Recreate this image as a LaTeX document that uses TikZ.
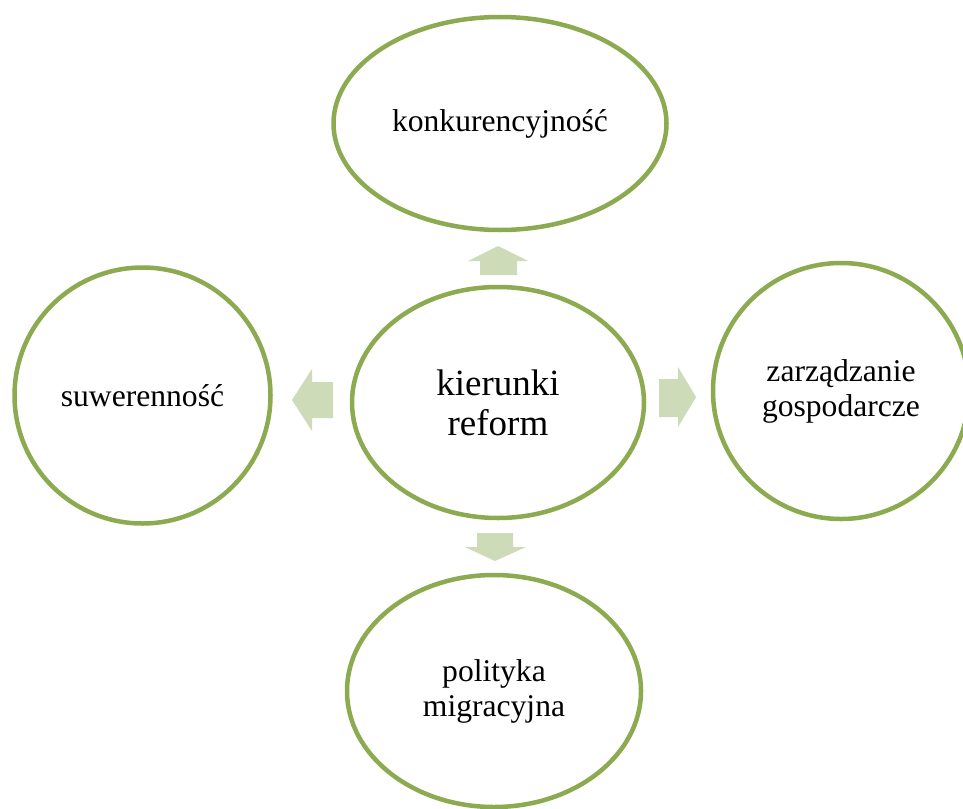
\documentclass[tikz,border=0pt]{standalone}
\usepackage{fontspec}
\setmainfont{Liberation Serif}
\usetikzlibrary{shapes.geometric}
\definecolor{ring}{HTML}{8CAB50}
\definecolor{arrowfill}{HTML}{CDDBB8}
\begin{document}
\begin{tikzpicture}[x=1pt,y=-1pt,
  bubble/.style={draw=ring, line width=4.5pt, ellipse, inner sep=0pt, align=center,
    font=\fontsize{31.6}{35}\selectfont},
  hub/.style={bubble, font=\fontsize{37}{40}\selectfont},
  blockarrow/.style={fill=arrowfill, draw=none}]
\useasboundingbox (0,0) rectangle (963,808);
\fill[white] (0,0) rectangle (963,808);
\node[bubble, minimum width=333pt, minimum height=213pt] (konk) at (500,123.5) {konkurencyjność};
\node[hub, minimum width=292pt, minimum height=231pt] (kier) at (498,402.5) {kierunki\\reform};
\node[bubble, minimum width=256pt, minimum height=256pt] (suw) at (142.5,395.5) {suwerenność};
\node[bubble, minimum width=256pt, minimum height=256pt] (zarz) at (841,391) {zarządzanie\\gospodarcze};
\node[bubble, minimum width=294pt, minimum height=232pt] (poli) at (494,691) {polityka\\migracyjna};
% block arrows
\fill[blockarrow] (480,275) -- (480,261) -- (468,261) -- (498,246) -- (528,261) -- (517,261) -- (517,275) -- cycle;
\fill[blockarrow] (333,382) -- (312,382) -- (312,369) -- (292,400) -- (312,431) -- (312,418) -- (333,418) -- cycle;
\fill[blockarrow] (659,379) -- (678,379) -- (678,367) -- (696,397) -- (678,427) -- (678,417) -- (659,417) -- cycle;
\fill[blockarrow] (477,533) -- (477,547) -- (465,547) -- (495,561) -- (526,547) -- (513,547) -- (513,533) -- cycle;
\end{tikzpicture}
\end{document}
